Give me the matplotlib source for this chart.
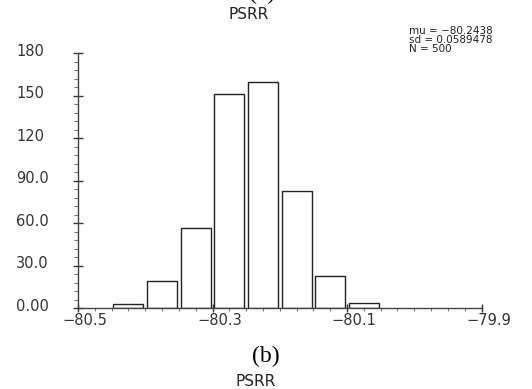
import matplotlib
matplotlib.use("Agg")
import matplotlib.pyplot as plt
import matplotlib.transforms as mtransforms
from matplotlib.ticker import MultipleLocator

# ── data ──────────────────────────────────────────────────────────
bin_centers = [-80.425, -80.375, -80.325, -80.275, -80.225, -80.175, -80.125, -80.075]
counts = [3, 19, 57, 151, 160, 83, 23, 4]

x_ticks = [-80.5, -80.3, -80.1, -79.9]
x_labels = ["\u221280.5", "\u221280.3", "\u221280.1", "\u221279.9"]
y_ticks = [0, 30, 60, 90, 120, 150, 180]
y_labels = ["0.00", "30.0", "60.0", "90.0", "120", "150", "180"]

stats_text = "mu = \u221280.2438\nsd = 0.0589478\nN = 500"
title = "PSRR"

W, H = 532, 389
fig = plt.figure(figsize=(W / 100, H / 100), dpi=100)
ax = fig.add_axes([78 / W, 1 - 308.3 / H, 403.5 / W, 255.1 / H])

ax.bar(bin_centers, counts, width=0.0445, facecolor="white",
       edgecolor="#222222", linewidth=1.0)

ax.set_xlim(-80.5, -79.9)
ax.set_ylim(0, 180)

for side in ("top", "right"):
    ax.spines[side].set_visible(False)
for side in ("left", "bottom"):
    ax.spines[side].set_color("#444444")
    ax.spines[side].set_linewidth(1.0)

ax.set_xticks(x_ticks)
ax.set_xticklabels(x_labels)
ax.xaxis.set_minor_locator(MultipleLocator(0.025))
ax.set_yticks(y_ticks)
ax.yaxis.set_minor_locator(MultipleLocator(6))

ax.tick_params(axis="x", which="major", direction="inout", length=5.5,
               width=1.0, color="#333333", pad=0.5, labelsize=10.5)
ax.tick_params(axis="x", which="minor", direction="out", length=2.5,
               width=0.8, color="#777777")
ax.tick_params(axis="y", which="major", direction="inout", length=6.5,
               width=1.0, color="#333333", labelleft=False)
ax.tick_params(axis="y", which="minor", direction="out", length=3.2,
               width=0.8, color="#777777")

# x labels sit a little right of their ticks
shift = mtransforms.ScaledTranslation(7 / 100, 0, fig.dpi_scale_trans)
for lab in ax.get_xticklabels():
    lab.set_transform(lab.get_transform() + shift)
    lab.set_color("#333333")

# y labels are left-aligned at the figure edge
ytrans = mtransforms.blended_transform_factory(fig.transFigure, ax.transData)
yshift = mtransforms.ScaledTranslation(0, 2 / 100, fig.dpi_scale_trans)
for v, s in zip(y_ticks, y_labels):
    fig.text(16 / W, v, s, transform=ytrans + yshift, ha="left", va="center",
             fontsize=10.5, color="#333333")

# stats box
fig.text(409 / W, 1 - 26 / H, stats_text, ha="left", va="top", fontsize=7.5,
         linespacing=0.85, color="#222222")

# titles and captions
fig.text(249 / W, 1 - 14.5 / H, title, ha="center", va="center", fontsize=11,
         color="#222222")
fig.text(262 / W, 1 + 7 / H, "(a)", ha="center", va="center", fontsize=17,
         family="Liberation Serif")
fig.text(266 / W, 1 - 356 / H, "(b)", ha="center", va="center", fontsize=17,
         family="Liberation Serif")
fig.text(256 / W, 1 - 381 / H, title, ha="center", va="center", fontsize=11,
         color="#222222")

fig.savefig("out.png", dpi=100)
